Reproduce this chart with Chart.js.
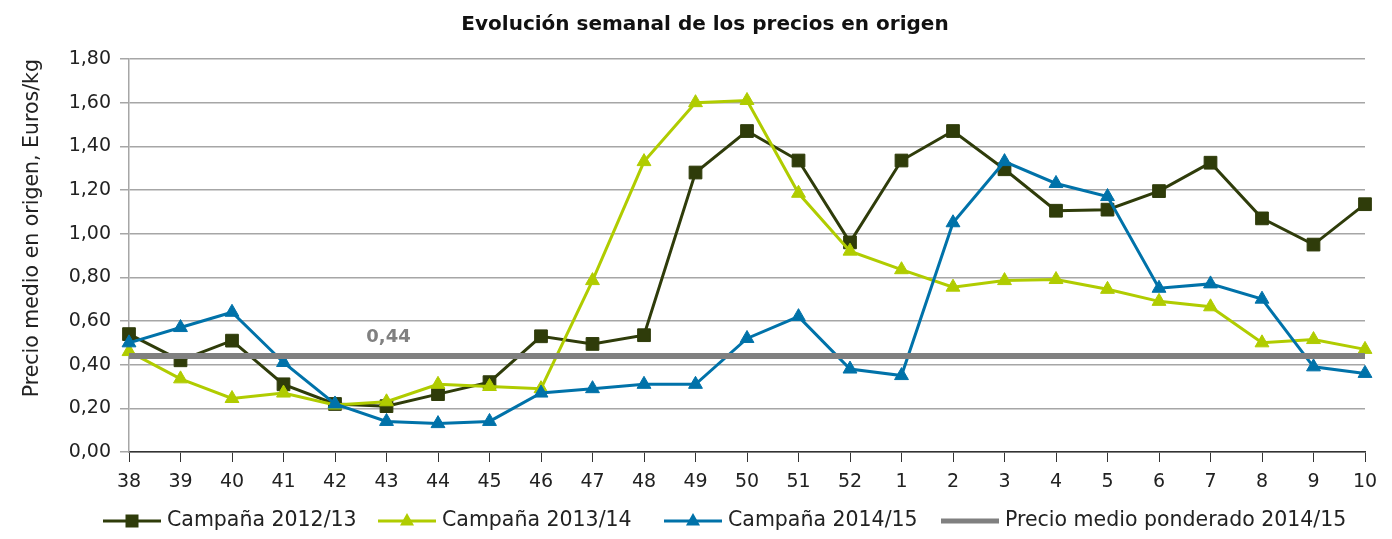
<!DOCTYPE html>
<html>
<head>
<meta charset="utf-8">
<script src="https://cdn.jsdelivr.net/npm/chart.js@4.4.1/dist/chart.umd.min.js"></script>
<style>
  html, body { margin: 0; padding: 0; background: #fff; }
</style>
</head>
<body>
<canvas id="canvas" width="1392" height="539"></canvas>
<script>
const semanas = ['38', '39', '40', '41', '42', '43', '44', '45', '46', '47', '48', '49', '50', '51', '52',
                 '1', '2', '3', '4', '5', '6', '7', '8', '9', '10'];
const campana1213 = [0.54, 0.42, 0.51, 0.31, 0.22, 0.21, 0.265, 0.32, 0.53, 0.495, 0.535, 1.28, 1.47,
                     1.335, 0.96, 1.335, 1.47, 1.295, 1.105, 1.11, 1.195, 1.325, 1.07, 0.95, 1.135];
const campana1314 = [0.46, 0.335, 0.245, 0.27, 0.215, 0.23, 0.31, 0.30, 0.29, 0.785, 1.33, 1.60, 1.61,
                     1.185, 0.92, 0.835, 0.755, 0.785, 0.79, 0.745, 0.69, 0.665, 0.50, 0.515, 0.47];
const campana1415 = [0.50, 0.57, 0.64, 0.41, 0.22, 0.14, 0.13, 0.14, 0.27, 0.29, 0.31, 0.31, 0.52,
                     0.62, 0.38, 0.35, 1.05, 1.33, 1.23, 1.17, 0.75, 0.77, 0.70, 0.39, 0.36];
const precioMedio = 0.44;
const precioMedioSemana = '43';   // where the "0,44" label sits
const yMin = 0, yMax = 1.8, yStep = 0.2;

const fmt = v => v.toFixed(2).replace('.', ',');
const FONT = "'DejaVu Sans', sans-serif";

const colores = {
  c1213: '#2f3c0a',
  c1314: '#b0cc00',
  c1415: '#0072a9',
  medio: '#808080'
};

const legendItems = [
  { label: 'Campaña 2012/13', color: colores.c1213, style: 'rect', x: 103 },
  { label: 'Campaña 2013/14', color: colores.c1314, style: 'triangle', x: 378 },
  { label: 'Campaña 2014/15', color: colores.c1415, style: 'triangle', x: 664 },
  { label: 'Precio medio ponderado 2014/15', color: colores.medio, style: 'none', x: 941 }
];

function marker(ctx, style, x, y, color) {
  ctx.fillStyle = color;
  ctx.beginPath();
  if (style === 'rect') {
    ctx.rect(x - 6.5, y - 6.5, 13, 13);
  } else if (style === 'triangle') {
    ctx.moveTo(x, y - 8);
    ctx.lineTo(x + 7, y + 4.5);
    ctx.lineTo(x - 7, y + 4.5);
    ctx.closePath();
  }
  ctx.fill();
}

const extras = {
  id: 'extras',
  afterDatasetsDraw(chart) {
    const ctx = chart.ctx;
    const xs = chart.scales.x, ys = chart.scales.y;
    ctx.save();
    ctx.font = "bold 18px " + FONT;
    ctx.fillStyle = colores.medio;
    ctx.textAlign = 'center';
    ctx.textBaseline = 'middle';
    ctx.fillText(fmt(precioMedio), xs.getPixelForValue(semanas.indexOf(precioMedioSemana)) + 2,
                 ys.getPixelForValue(precioMedio) - 19);
    ctx.restore();
  },
  afterDraw(chart) {
    const ctx = chart.ctx;
    const y = 521;
    ctx.save();
    ctx.font = "20.5px " + FONT;
    ctx.textBaseline = 'middle';
    ctx.textAlign = 'left';
    legendItems.forEach(it => {
      ctx.strokeStyle = it.color;
      ctx.lineWidth = it.style === 'none' ? 5 : 3;
      ctx.beginPath();
      ctx.moveTo(it.x, y);
      ctx.lineTo(it.x + 58, y);
      ctx.stroke();
      marker(ctx, it.style, it.x + 29, y, it.color);
      ctx.fillStyle = '#222';
      ctx.fillText(it.label, it.x + 64, y);
    });
    ctx.restore();
  }
};

const serie = (label, data, color, style, radius, order) => ({
  label: label,
  data: data,
  borderColor: color,
  backgroundColor: color,
  pointBackgroundColor: color,
  pointBorderColor: color,
  pointStyle: style,
  pointRadius: radius,
  pointBorderWidth: 1,
  borderWidth: 3,
  tension: 0,
  fill: false,
  order: order
});

const myChart = new Chart(
  document.getElementById('canvas'),
  {
    type: 'line',
    data: {
      labels: semanas,
      datasets: [
        serie('Campaña 2012/13', campana1213, colores.c1213, 'rect', 9, 4),
        serie('Campaña 2013/14', campana1314, colores.c1314, 'triangle', 8, 3),
        serie('Campaña 2014/15', campana1415, colores.c1415, 'triangle', 8, 2),
        {
          label: 'Precio medio ponderado 2014/15',
          data: semanas.map(() => precioMedio),
          borderColor: colores.medio,
          backgroundColor: colores.medio,
          borderWidth: 6,
          pointRadius: 0,
          fill: false,
          order: 1
        }
      ]
    },
    options: {
      responsive: false,
      animation: false,
      layout: { padding: { left: 45, right: 27, top: 0, bottom: 41 } },
      plugins: {
        legend: { display: false },
        tooltip: { enabled: false },
        title: {
          display: true,
          text: 'Evolución semanal de los precios en origen',
          color: '#111',
          font: { family: FONT, size: 20, weight: 'bold' },
          padding: { top: 13, bottom: 22 }
        }
      },
      scales: {
        x: {
          offset: false,
          afterFit: s => { s.height = 46; },
          grid: { drawOnChartArea: false, drawTicks: true, tickLength: 10, color: '#333', lineWidth: 1 },
          border: { color: '#333', width: 1.5 },
          ticks: { color: '#222', font: { family: FONT, size: 19 }, padding: 9, maxRotation: 0, autoSkip: false }
        },
        y: {
          min: yMin,
          max: yMax,
          afterFit: s => { s.width = 84; },
          grid: { color: '#a6a6a6', lineWidth: 1.5, tickLength: 9 },
          border: { color: '#a6a6a6', width: 1.5 },
          ticks: {
            stepSize: yStep,
            color: '#222',
            font: { family: FONT, size: 19 },
            padding: 9,
            callback: v => fmt(v)
          },
          title: {
            display: true,
            text: 'Precio medio en origen, Euros/kg',
            align: 'end',
            color: '#222',
            font: { family: FONT, size: 20.5 },
            padding: { top: -25, bottom: 0 }
          }
        }
      }
    },
    plugins: [extras]
  }
);
</script>
</body>
</html>
